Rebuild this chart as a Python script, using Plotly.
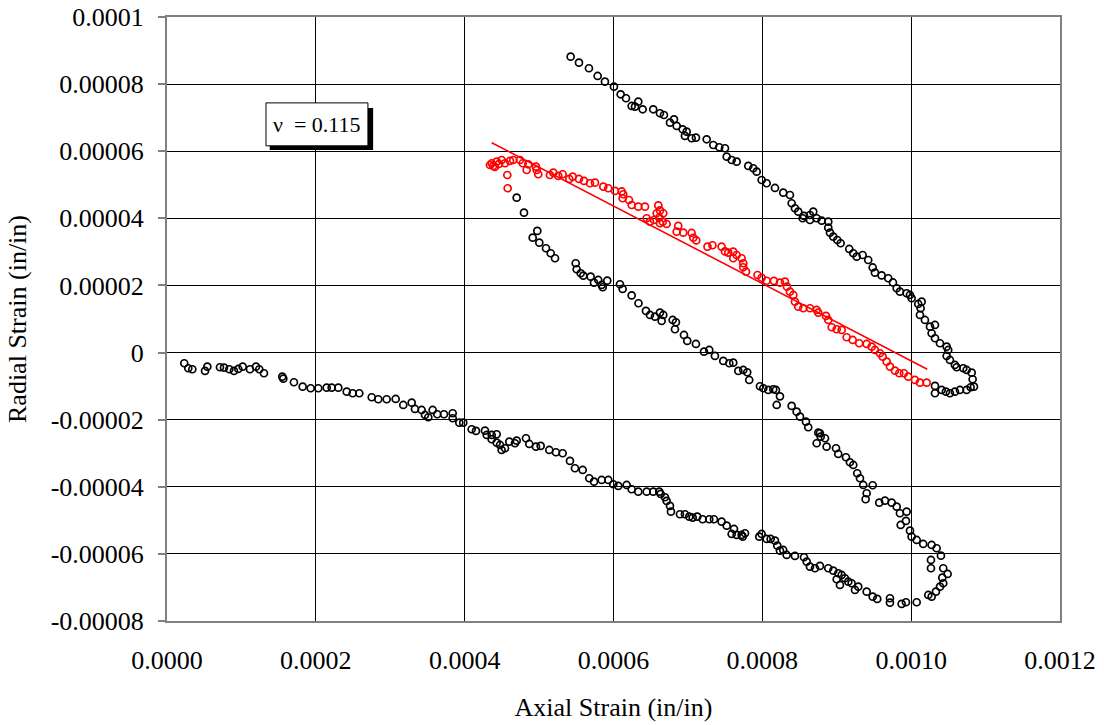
import numpy as np
import plotly.graph_objects as go

# Values, in micro-strain (1e-6 in/in)
black1_axial = [23.2,28.6,34.0,51.1,54.2,71.2,76.6,83.7,90.0,95.8,
    101.7,111.5,119.6,124.0,130.3,154.9,156.3,170.6,182.3,193.1,
    203.3,214.6,221.3,230.2,241.5,249.5,258.4,275.1,283.9,295.2,
    307.3,317.5,328.8,333.2,342.2,346.7,351.1,357.0,363.2,372.2,
    383.9,383.9,392.8,398.1,409.4,415.2,427.3,429.6,436.3,443.0,
    436.3,443.0,447.5,449.7,454.2,460.0,467.6,469.9,482.4,486.8,
    495.8,502.1,513.7,522.7,531.7,541.5,548.2,558.6,567.4,573.8,
    584.1,593.0,599.7,606.4,617.7,624.4,633.3,644.6,653.4,661.5,
    663.4,669.2,671.4,675.9,677.2,689.3,696.0,701.8,706.4,712.6,
    719.8,728.7,735.0,745.3,752.1,761.9,758.8,765.5,772.2,776.7,
    773.6,795.9,799.1,805.8,811.2,817.0,820.1,823.7,828.1,832.7,
    843.8,856.0,859.6,864.0,870.7,877.4,888.6,895.3,902.0,906.6,
    899.9,904.3,911.0,915.5,920.0,924.5,928.9,940.2,948.3,954.4,
    971.5,971.5,987.2,993.0,1007.4,1023.0,1027.5,1033.3,1038.7,1043.1,
    1041.8,1049.0,1043.1,1026.6,1026.6,1040.0,1034.2,1027.5,1016.2,1007.4,
    1000.6,998.4,993.0,985.9,993.9,984.9,980.5,973.8,964.8,957.1,
    948.3,938.8,940.2,935.6,931.2,927.5,922.2,917.7,912.4,902.0,
    899.0,886.4,884.2,877.4,873.0,878.4,875.2,861.7,858.6,850.6,
    846.1,839.4,819.3,823.7,818.3,814.7,808.0,801.3,796.8,782.4,
    779.7,774.4,767.7,760.9,755.6,747.5,736.3,728.7,721.6,710.8,
    699.1,694.7,683.9,682.6,679.5,666.9,664.7,662.4,655.7,649.0,
    643.6,633.6,624.4,612.3,608.7,591.6,585.5,584.1,579.5,573.8,
    569.3,559.4,555.9,550.5,549.2,521.4,515.6,509.3,500.3,491.4,
    497.6,479.7,469.9]
black1_radial = [-3.19,-4.68,-4.98,-5.48,-4.20,-4.38,-4.50,-4.98,-5.48,-4.89,
    -4.20,-4.98,-4.20,-4.98,-6.17,-7.18,-7.78,-8.85,-10.16,-10.64,
    -10.64,-10.46,-10.46,-10.46,-11.65,-12.13,-12.13,-13.32,-13.92,-13.92,
    -13.83,-15.62,-14.93,-16.81,-17.11,-18.60,-19.28,-17.11,-18.39,-18.39,
    -18.09,-19.58,-20.89,-20.89,-22.86,-23.36,-23.27,-24.56,-24.56,-24.35,
    -25.84,-26.85,-27.54,-29.03,-28.52,-26.55,-27.03,-26.25,-25.54,-27.24,
    -28.04,-27.83,-29.03,-29.71,-30.01,-32.30,-34.48,-34.99,-37.46,-38.47,
    -37.97,-37.97,-39.25,-39.75,-39.46,-40.74,-41.45,-41.45,-41.45,-41.45,
    -42.14,-43.12,-44.22,-45.71,-47.41,-48.19,-48.19,-48.90,-49.20,-48.90,
    -49.68,-49.68,-49.68,-50.39,-51.58,-52.57,-54.06,-54.36,-54.36,-53.85,
    -54.86,-54.86,-54.06,-55.55,-55.55,-56.05,-57.54,-59.03,-58.83,-60.32,
    -60.61,-61.00,-62.31,-63.80,-64.28,-63.59,-64.28,-64.99,-65.77,-66.28,
    -67.56,-69.26,-67.26,-68.27,-68.75,-70.75,-69.76,-71.25,-72.74,-73.43,
    -73.22,-74.53,-74.92,-74.41,-74.41,-72.24,-72.74,-71.25,-69.76,-68.75,
    -67.08,-65.98,-64.28,-64.28,-61.81,-60.52,-58.32,-57.34,-57.04,-55.85,
    -54.86,-53.07,-50.18,-51.38,-47.41,-47.89,-45.92,-44.73,-44.13,-44.73,
    -39.54,-43.72,-41.93,-39.46,-37.46,-35.97,-33.50,-32.69,-31.20,-30.22,
    -28.52,-28.04,-25.54,-24.05,-27.03,-25.06,-23.87,-22.26,-20.59,-19.10,
    -17.61,-15.91,-15.62,-13.05,-11.15,-10.94,-11.15,-10.64,-10.04,-8.17,
    -5.87,-5.19,-5.48,-3.01,-3.19,-2.50,-1.01,0.77,0.27,2.56,
    3.46,5.24,9.03,6.94,9.71,11.20,9.42,11.89,10.70,11.20,
    12.40,14.69,17.02,18.95,20.35,21.43,19.46,20.14,21.63,20.83,
    22.62,22.92,23.63,24.82,26.61,28.10,29.59,31.08,32.75,34.24,
    36.24,41.69,46.16]

red_axial = [457.8,457.3,436.3,438.4,443.0,449.7,454.2,460.9,465.3,434.0,
    440.7,446.1,474.3,478.0,485.5,483.3,495.8,496.8,498.9,514.6,
    519.1,525.8,531.7,540.6,545.1,553.6,560.3,568.4,575.1,586.3,
    593.0,602.0,611.0,613.1,612.3,620.8,624.4,633.3,642.3,660.2,
    662.4,658.0,666.9,644.6,649.0,654.4,661.5,666.1,671.4,662.4,
    687.0,684.9,693.8,705.0,707.2,711.2,726.3,733.0,745.3,749.8,
    754.2,760.9,765.5,760.9,772.2,774.4,774.4,778.0,793.5,799.1,
    805.8,815.6,823.7,830.4,833.1,837.1,841.6,843.8,848.3,855.0,
    864.0,873.0,875.2,885.5,888.6,893.2,899.9,906.6,913.3,921.4,
    930.2,940.2,946.9,951.3,958.0,961.7,967.1,971.5,978.2,984.0,
    990.3,996.1,1005.1,1011.8,1020.8]
red_radial = [48.96,52.92,56.41,55.61,56.89,57.39,56.41,57.10,57.39,55.90,
    55.31,56.20,57.39,56.41,56.11,54.41,55.40,54.41,53.13,52.92,
    53.61,52.63,53.13,51.73,52.42,51.73,51.14,50.45,50.63,49.44,
    48.96,48.16,48.01,47.17,45.98,45.47,43.98,43.48,43.48,43.84,
    42.35,41.51,41.51,40.02,39.01,39.51,40.20,39.01,38.32,38.53,
    37.73,36.03,35.73,35.64,34.21,33.41,31.56,31.98,31.56,30.13,
    29.77,30.07,29.08,28.10,28.10,26.61,25.42,24.11,23.12,22.29,
    21.40,21.34,20.83,21.13,19.64,18.15,17.16,15.17,13.68,13.20,
    13.20,12.69,11.89,10.91,9.71,7.54,6.94,6.73,4.56,3.75,
    2.77,2.56,1.76,0.77,-0.21,-1.22,-2.71,-4.20,-5.39,-6.17,
    -6.17,-7.18,-8.17,-8.97,-8.97]

black2_axial = [1032.0,1032.0,1041.0,1046.7,1052.1,1058.8,1065.6,1074.5,1079.9,1084.4,
    1082.6,1081.3,1074.5,1070.0,1061.1,1058.8,1052.1,1047.7,1049.8,1047.7,
    1038.7,1032.0,1027.5,1032.0,1025.3,1018.5,1011.8,1012.7,1014.1,1009.5,
    1000.6,998.4,993.9,984.9,980.5,975.5,969.2,960.3,951.3,948.3,
    942.3,934.8,926.8,922.2,916.8,905.2,900.7,895.3,890.9,888.6,
    888.6,879.7,873.0,868.4,864.0,864.0,856.0,854.2,848.3,843.8,
    839.4,837.1,828.1,817.0,805.8,799.1,792.4,787.8,781.1,765.5,758.8,
    752.1,749.8,742.1,734.1,725.2,710.8,705.0,698.3,696.0,692.9,
    684.9,681.3,675.9,667.8,662.4,653.4,639.2,633.3,628.9,624.4,
    616.8,609.6,600.6,588.5,578.7,567.0,553.6,542.4]
black2_radial = [-9.95,-12.13,-11.15,-11.65,-12.13,-11.65,-11.15,-11.15,-10.34,-10.16,
    -7.96,-5.99,-5.19,-4.68,-4.38,-3.70,-2.21,-1.01,0.77,1.76,
    2.77,4.26,5.75,8.22,7.72,9.71,11.20,13.20,15.17,14.48,
    16.18,17.16,17.67,18.15,19.16,20.89,22.14,22.98,23.81,25.36,
    27.59,29.08,28.58,29.59,30.87,32.57,33.55,34.54,35.73,37.22,
    39.01,39.31,40.02,41.99,39.51,41.00,40.71,40.02,41.99,43.00,
    44.49,46.96,47.65,49.05,50.45,51.43,53.91,54.92,55.61,56.89,57.39,
    58.38,60.88,61.18,61.86,63.56,64.04,63.86,65.83,64.55,66.54,
    67.53,69.52,68.51,70.80,71.31,72.50,72.50,74.77,73.28,73.49,
    75.78,76.97,79.24,80.73,82.43,84.72,86.39,88.18]

# Linear fit shown on the chart (Poisson's ratio 0.115)
fit_axial = [436.3, 1021.6]
fit_radial = [62.55, -4.98]

x_ticks = [0.0, 0.0002, 0.0004, 0.0006, 0.0008, 0.0010, 0.0012]
x_tick_labels = ["0.0000", "0.0002", "0.0004", "0.0006", "0.0008", "0.0010", "0.0012"]
y_ticks = [-0.00008, -0.00006, -0.00004, -0.00002, 0.0, 0.00002, 0.00004, 0.00006, 0.00008, 0.0001]
y_tick_labels = ["-0.00008", "-0.00006", "-0.00004", "-0.00002", "0",
                 "0.00002", "0.00004", "0.00006", "0.00008", "0.0001"]

U = 1e-6
FONT = "Liberation Serif, Times New Roman, serif"

def open_circles(x, y, color, name):
    return go.Scatter(
        x=np.array(x) * U, y=np.array(y) * U, mode="markers", name=name,
        marker=dict(symbol="circle-open", size=7, color=color,
                    line=dict(color=color, width=1.7)),
        showlegend=False,
    )

fig = go.Figure()
fig.add_trace(open_circles(black1_axial, black1_radial, "black", "Loading"))
fig.add_trace(open_circles(black2_axial, black2_radial, "black", "Reloading"))
fig.add_trace(open_circles(red_axial, red_radial, "#FF0000", "Fit range"))
fig.add_trace(go.Scatter(x=np.array(fit_axial) * U, y=np.array(fit_radial) * U,
                         mode="lines", line=dict(color="#FF0000", width=1.6),
                         showlegend=False, name="Linear fit"))

# Annotation box with shadow
fig.add_shape(type="rect", xref="x", yref="y", x0=138e-6, x1=277e-6, y0=60.4e-6, y1=72.9e-6,
              fillcolor="black", line=dict(width=0), layer="above")
fig.add_shape(type="rect", xref="x", yref="y", x0=133e-6, x1=270e-6, y0=61.6e-6, y1=74.4e-6,
              fillcolor="white", line=dict(color="black", width=1), layer="above")
fig.add_annotation(x=201.5e-6, y=68.0e-6, xref="x", yref="y", text="\u03bd  = 0.115",
                   showarrow=False, font=dict(family=FONT, size=22, color="black"))

fig.update_layout(
    width=1104, height=725,
    margin=dict(l=167, r=44, t=17, b=104, autoexpand=False),
    paper_bgcolor="white", plot_bgcolor="white",
    font=dict(family=FONT, size=26, color="black"),
    xaxis=dict(
        range=[0, 0.0012], tickvals=x_ticks, ticktext=x_tick_labels,
        showgrid=True, gridcolor="black", gridwidth=1, zeroline=False,
        showline=True, linecolor="#808080", linewidth=2, mirror=True,
        ticks="", ticklabelstandoff=15, ticklabeloverflow="allow",
        title=dict(text="Axial Strain (in/in)", standoff=24,
                   font=dict(family=FONT, size=26)),
        automargin=False,
    ),
    yaxis=dict(
        range=[-0.00008, 0.0001], tickvals=y_ticks, ticktext=y_tick_labels,
        showgrid=True, gridcolor="black", gridwidth=1, zeroline=False,
        showline=True, linecolor="#808080", linewidth=2, mirror=True,
        ticks="outside", ticklen=7, tickcolor="#808080", tickwidth=2, ticklabelstandoff=9,
        ticklabeloverflow="allow",
        title=dict(text="Radial Strain (in/in)", standoff=17,
                   font=dict(family=FONT, size=26)),
        automargin=False,
    ),
)

# Remove the browser's default body margin so the figure fills the window exactly.
fig.write_html("out.html", config={"displayModeBar": False},
               post_script="document.body.style.margin='0';")
